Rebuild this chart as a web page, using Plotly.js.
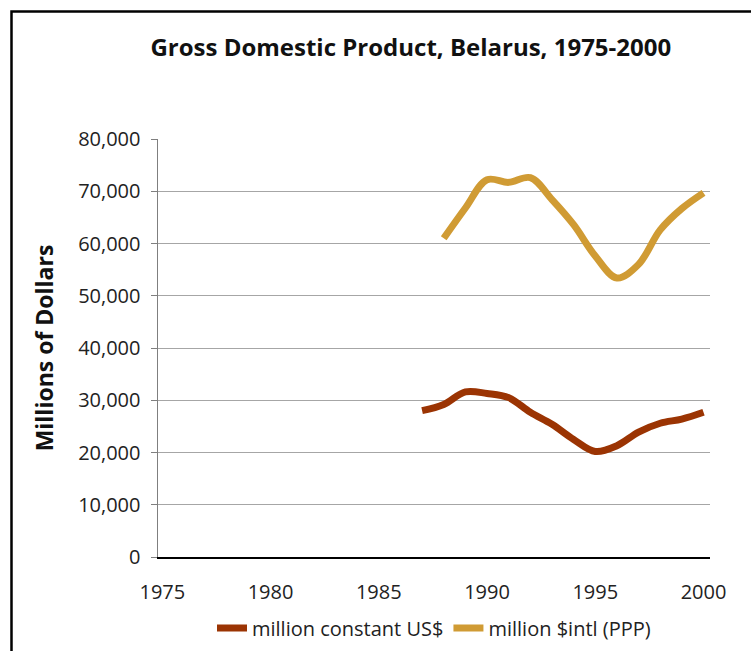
<!DOCTYPE html>
<html>
<head>
<meta charset="utf-8">
<script src="https://cdn.plot.ly/plotly-3.0.1.min.js"></script>
<style>
  html, body { margin: 0; padding: 0; background: #fff; }
  #gdpChart { width: 751px; height: 651px; }
</style>
</head>
<body>
<div id="gdpChart"></div>
<script>
// GDP of Belarus, millions of dollars
const yearsConstant = [1987, 1988, 1989, 1990, 1991, 1992, 1993, 1994, 1995, 1996, 1997, 1998, 1999, 2000];
const constantUSD = [28000, 29200, 31600, 31300, 30500, 27700, 25400, 22500, 20200, 21300, 23900, 25600, 26400, 27700];

const yearsPPP = [1988, 1989, 1990, 1991, 1992, 1993, 1994, 1995, 1996, 1997, 1998, 1999, 2000];
const intlPPP = [61000, 66800, 72200, 71700, 72600, 68400, 63600, 57600, 53400, 56000, 62600, 66700, 69700];

const xTicks = [1975, 1980, 1985, 1990, 1995, 2000];
const yTicks = [0, 10000, 20000, 30000, 40000, 50000, 60000, 70000, 80000];

const fontFamily = "Open Sans, Noto Sans, sans-serif";

const traces = [
  {
    x: yearsConstant,
    y: constantUSD,
    type: "scatter",
    mode: "lines",
    name: "million constant US$",
    line: {color: "#9b3403", width: 7, shape: "spline", smoothing: 1}
  },
  {
    x: yearsPPP,
    y: intlPPP,
    type: "scatter",
    mode: "lines",
    name: "million $intl (PPP)",
    line: {color: "#d09b34", width: 7, shape: "spline", smoothing: 1}
  }
];

const layout = {
  width: 751,
  height: 651,
  margin: {l: 158, r: 41, t: 139, b: 94, autoexpand: false},
  paper_bgcolor: "#ffffff",
  plot_bgcolor: "#ffffff",
  font: {family: fontFamily, size: 20, color: "#222222"},
  showlegend: true,
  hovermode: false,
  title: {
    text: "<b>Gross Domestic Product, Belarus, 1975-2000</b>",
    font: {family: fontFamily, size: 24, color: "#111111"},
    x: 0.547,
    xanchor: "center",
    y: 0.927,
    yanchor: "middle"
  },
  xaxis: {
    range: [1974.8, 2000.3],
    tickvals: xTicks,
    showgrid: false,
    zeroline: false,
    showline: true,
    linecolor: "#000000",
    linewidth: 1.5,
    ticks: "",
    ticklabelstandoff: 16,
    tickfont: {size: 20}
  },
  yaxis: {
    range: [0, 80000],
    tickvals: yTicks,
    tickformat: ",d",
    showgrid: true,
    gridcolor: "#a6a6a6",
    gridwidth: 1,
    zeroline: false,
    showline: true,
    linecolor: "#7f7f7f",
    linewidth: 1.5,
    ticks: "outside",
    ticklen: 6,
    tickcolor: "#7f7f7f",
    ticklabelstandoff: 6,
    tickfont: {size: 20},
    title: {
      text: "<b>Millions of Dollars</b>",
      font: {family: fontFamily, size: 23, color: "#111111"},
      standoff: 18
    }
  },
  legend: {
    orientation: "h",
    x: 0.5,
    xanchor: "center",
    y: -0.123,
    yanchor: "top",
    font: {size: 20},
    itemwidth: 30
  },
  shapes: [{
    type: "rect",
    xref: "paper",
    yref: "paper",
    x0: -0.2654,
    x1: 1.1,
    y0: -0.4,
    y1: 1.305,
    line: {color: "#000000", width: 2.5},
    fillcolor: "rgba(0,0,0,0)"
  }]
};

Plotly.newPlot("gdpChart", traces, layout, {displayModeBar: false, staticPlot: true});
</script>
</body>
</html>
